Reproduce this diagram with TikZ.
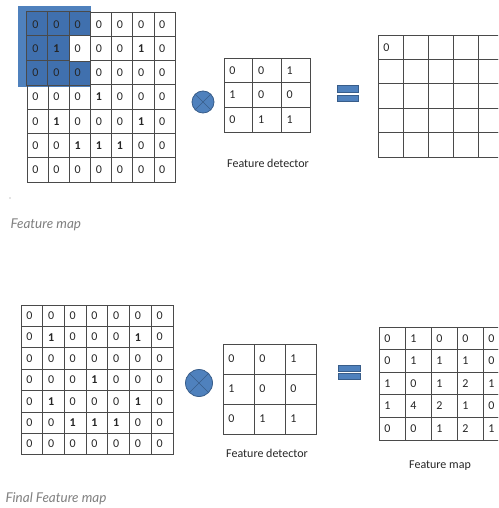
\documentclass[tikz,border=0pt]{standalone}
\usepackage{fontspec}
\setmainfont{Carlito}
\newfontfamily\capfont{Lato}
\definecolor{officeblue}{HTML}{4F81BD}
\definecolor{cellblue}{HTML}{4070AE}
\definecolor{edgeblue}{HTML}{385D8A}
\definecolor{gridgray}{HTML}{4A4A4A}

\begin{document}
\begin{tikzpicture}[x=1pt,y=-1pt,
  cell/.style={draw=gridgray,line width=0.8pt,inner sep=0pt},
  digit/.style={anchor=west,inner sep=0pt,font=\fontsize{12}{14}\selectfont,text=black!85},
  opcircle/.style={circle,draw=edgeblue,fill=officeblue,line width=0.8pt,minimum size=#1,inner sep=0pt},
  eqbar/.style={draw=edgeblue,fill=officeblue,line width=0.6pt,minimum width=21pt,minimum height=6.5pt,inner sep=0pt},
  label/.style={font=\fontsize{12}{14}\selectfont,text=black!85},
  caption/.style={anchor=west,font=\capfont\itshape\fontsize{13.5}{16}\selectfont,text=black!50}]
  \clip (0,0) rectangle (498,508);
  \fill[white] (0,0) rectangle (498,508);

  % top row: input, filter, output
  \fill[officeblue] (18,6) rectangle (91,87);
  \foreach \row [count=\r from 0] in {{0,0,0,0,0,0,0},{0,1,0,0,0,1,0},{0,0,0,0,0,0,0},{0,0,0,1,0,0,0},{0,1,0,0,0,1,0},{0,0,1,1,1,0,0},{0,0,0,0,0,0,0}}{
    \foreach \v [count=\c from 0] in \row{
      \node[cell,minimum width=21.15pt,minimum height=24.3pt] (a-\r-\c) at ({27+21.15*(\c+.5)},{12+24.3*(\r+.5)}) {};
      \node[digit] at ([xshift=5.5pt]a-\r-\c.west) {\ifnum\v=1 \textbf{1}\else 0\fi};
    }
  }
  \foreach \r/\c in {0/0,0/1,0/2,1/0,1/1,2/0,2/1,2/2}{
    \fill[cellblue] (a-\r-\c.north west) rectangle (a-\r-\c.south east);
    \draw[gridgray,line width=0.8pt] (a-\r-\c.north west) rectangle (a-\r-\c.south east);
  }
  \fill[white] (a-1-2.north west) rectangle (a-1-2.south east);
  \draw[gridgray,line width=0.8pt] (a-1-2.north west) rectangle (a-1-2.south east);
  \foreach \r/\c/\v in {0/0/0,0/1/0,0/2/0,1/0/0,1/1/1,1/2/0,2/0/0,2/1/0,2/2/0}
    \node[digit] at ([xshift=5.5pt]a-\r-\c.west) {\ifnum\v=1 \textbf{1}\else 0\fi};

  \node[opcircle=22pt] (op1) at (203,102) {};
  \draw[edgeblue,line width=0.6pt] (op1.north west) -- (op1.south east) (op1.north east) -- (op1.south west);

  \foreach \row [count=\r from 0] in {{0,0,1},{1,0,0},{0,1,1}}{
    \foreach \v [count=\c from 0] in \row{
      \node[cell,minimum width=28.7pt,minimum height=24.7pt] (f-\r-\c) at ({224+28.7*(\c+.5)},{58+24.7*(\r+.5)}) {};
      \node[digit] at ([xshift=5.5pt]f-\r-\c.west) {\v};
    }
  }
  \node[label] (det1) at (268,163) {Feature detector};

  \node[eqbar] (eq1a) at (348,89) {};
  \node[eqbar] (eq1b) at (348,98.5) {};

  \foreach \r in {0,...,4}{
    \foreach \c in {0,...,4}{
      \node[cell,minimum width=25pt,minimum height=24.4pt] (o-\r-\c) at ({378+25*(\c+.5)},{35+24.4*(\r+.5)}) {};
    }
  }
  \node[digit] at ([xshift=5.5pt]o-0-0.west) {0};

  \fill[black!45] (10,198) circle (0.7pt);
  \node[caption] (cap1) at (7,225) {Feature map};

  % bottom row: input, filter, result
  \foreach \row [count=\r from 0] in {{0,0,0,0,0,0,0},{0,1,0,0,0,1,0},{0,0,0,0,0,0,0},{0,0,0,1,0,0,0},{0,1,0,0,0,1,0},{0,0,1,1,1,0,0},{0,0,0,0,0,0,0}}{
    \foreach \v [count=\c from 0] in \row{
      \node[cell,minimum width=21.7pt,minimum height=21.4pt] (b-\r-\c) at ({21+21.7*(\c+.5)},{305+21.4*(\r+.5)}) {};
      \node[digit] at ([xshift=5.5pt]b-\r-\c.west) {\ifnum\v=1 \textbf{1}\else 0\fi};
    }
  }

  \node[opcircle=27pt] (op2) at (199,383) {};
  \draw[edgeblue,line width=0.6pt] (op2.north west) -- (op2.south east) (op2.north east) -- (op2.south west);

  \foreach \row [count=\r from 0] in {{0,0,1},{1,0,0},{0,1,1}}{
    \foreach \v [count=\c from 0] in \row{
      \node[cell,minimum width=31pt,minimum height=30pt] (g-\r-\c) at ({223+31*(\c+.5)},{344+30*(\r+.5)}) {};
      \node[digit] at ([xshift=5.5pt]g-\r-\c.west) {\v};
    }
  }
  \node[label] (det2) at (267,453) {Feature detector};

  \node[eqbar,minimum width=22pt] (eq2a) at (349,368.5) {};
  \node[eqbar,minimum width=22pt] (eq2b) at (349,376.5) {};

  \foreach \row [count=\r from 0] in {{0,1,0,0,0},{0,1,1,1,0},{1,0,1,2,1},{1,4,2,1,0},{0,0,1,2,1}}{
    \foreach \v [count=\c from 0] in \row{
      \node[cell,minimum width=26pt,minimum height=22.6pt] (m-\r-\c) at ({379+26*(\c+.5)},{327+22.6*(\r+.5)}) {};
      \node[digit] at ([xshift=5.5pt]m-\r-\c.west) {\v};
    }
  }
  \node[label] (map2) at (440,466) {Feature map};

  \node[caption] (cap2) at (2,499) {Final Feature map};
\end{tikzpicture}
\end{document}
